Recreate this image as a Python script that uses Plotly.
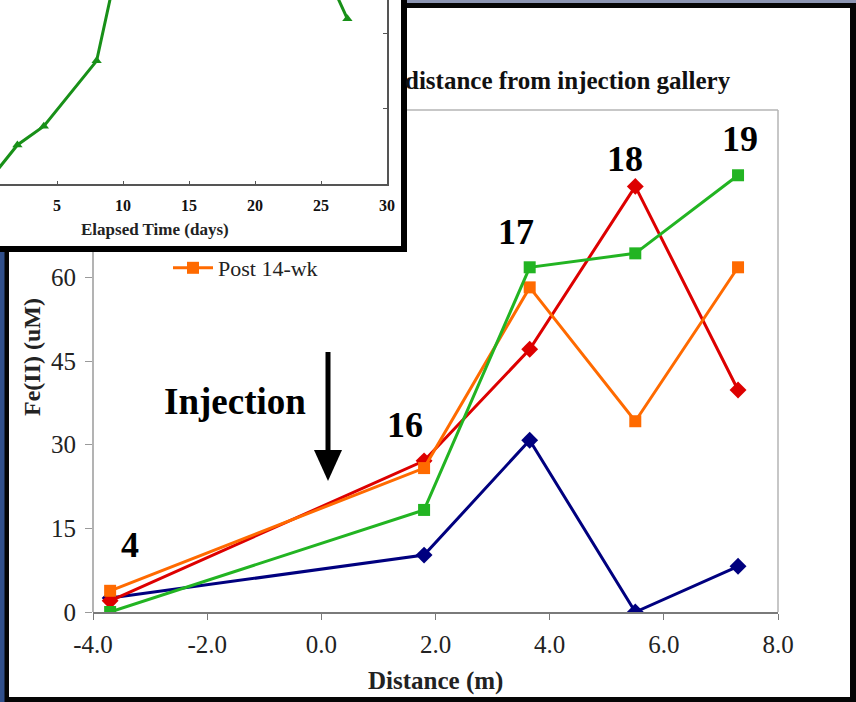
import plotly.graph_objects as go

W, H = 856, 702

# Well positions along the transect (m) and Fe(II) readings per sampling round
distance_m = [-3.7, 1.8, 3.65, 5.5, 7.3]
well_ids = ["4", "16", "17", "18", "19"]
fe_round_a = [2.5, 10.2, 30.8, 0.0, 8.2]      # navy
fe_round_b = [2.0, 27.1, 47.1, 76.3, 39.8]    # red
fe_post_14wk = [3.8, 25.8, 58.2, 34.2, 61.8]  # orange
fe_round_c = [0.0, 18.3, 61.8, 64.3, 78.3]    # green

x_ticks = [-4, -2, 0, 2, 4, 6, 8]
x_tick_text = [f"{v:.1f}" for v in x_ticks]
y_ticks = [0, 15, 30, 45, 60]

# Small time-series panel
elapsed_days = [0, 2, 4, 8, 14.6, 27]
inset_values = [8, 52, 77, 164, 695, 220]
inset_x_ticks = [5, 10, 15, 20, 25, 30]
inset_y_ticks = [0, 100, 200]

SERIF = "Liberation Serif"


def fx(px):
    return px / W


def fy(py):
    return 1 - py / H


# plot-area geometry (pixels)
MX0, MX1, MY0, MY1 = 93, 778, 612, 110
IX1, IY1 = 387, 184

fig = go.Figure()

series = [
    ("Round A", fe_round_a, "#00007f", "diamond", 13, False),
    ("Round B", fe_round_b, "#dd0000", "diamond", 13, False),
    ("Post 14-wk", fe_post_14wk, "#ff6a00", "square", 12, True),
    ("Round C", fe_round_c, "#22b422", "square", 12, False),
]
for name, vals, col, sym, size, show in series:
    fig.add_trace(go.Scatter(
        x=distance_m, y=vals, name=name, mode="lines+markers",
        line=dict(color=col, width=3),
        marker=dict(symbol=sym, size=size, color=col),
        showlegend=show, xaxis="x", yaxis="y",
    ))

fig.add_trace(go.Scatter(
    x=elapsed_days, y=inset_values, mode="lines+markers",
    line=dict(color="#189018", width=3),
    marker=dict(symbol="triangle-up", size=9, color="#189018"),
    showlegend=False, xaxis="x2", yaxis="y2",
))

shapes = [
    # panel backgrounds and borders
    dict(type="rect", xref="paper", yref="paper", x0=fx(0), x1=fx(4.5), y0=fy(702), y1=fy(252),
         fillcolor="#31508c", line_width=0, layer="below"),
    dict(type="rect", xref="paper", yref="paper", x0=fx(407), x1=fx(856), y0=fy(3), y1=fy(0),
         fillcolor="#8c95b2", line_width=0, layer="below"),
    dict(type="rect", xref="paper", yref="paper", x0=fx(9), x1=fx(850), y0=fy(697), y1=fy(8),
         fillcolor="white", line_width=0, layer="below"),
    dict(type="rect", xref="paper", yref="paper", x0=fx(0), x1=fx(407), y0=fy(252), y1=fy(0),
         fillcolor="black", line_width=0, layer="below"),
    dict(type="rect", xref="paper", yref="paper", x0=fx(0), x1=fx(401), y0=fy(246), y1=fy(0),
         fillcolor="white", line_width=0, layer="below"),
    # visible parts of the main plot frame
    dict(type="line", xref="paper", yref="paper", x0=fx(MX0), x1=fx(MX0), y0=fy(MY0), y1=fy(252),
         line=dict(color="#9a9a9a", width=1.5), layer="below"),
    dict(type="line", xref="paper", yref="paper", x0=fx(407), x1=fx(MX1), y0=fy(MY1), y1=fy(MY1),
         line=dict(color="#b4b4b4", width=1.5), layer="below"),
    dict(type="line", xref="paper", yref="paper", x0=fx(MX1), x1=fx(MX1), y0=fy(MY0), y1=fy(MY1),
         line=dict(color="#b4b4b4", width=1.5), layer="below"),
    # injection arrow
    dict(type="line", xref="paper", yref="paper", x0=fx(328), x1=fx(328), y0=fy(352), y1=fy(456),
         line=dict(color="black", width=5)),
    dict(type="path", xref="paper", yref="paper",
         path=f"M {fx(314)} {fy(450)} L {fx(342)} {fy(450)} L {fx(328)} {fy(481)} Z",
         fillcolor="black", line_width=0),
]

label_px = [(130, 545), (405, 425), (516, 232), (625, 159), (740, 139)]
annotations = []
for wid, (lx, ly) in zip(well_ids, label_px):
    annotations.append(dict(text=f"<b>{wid}</b>", x=fx(lx), y=fy(ly), xref="paper", yref="paper",
                            showarrow=False, xanchor="center", yanchor="middle",
                            font=dict(family=SERIF, size=36, color="black")))
annotations += [
    dict(text="<b>Injection</b>", x=fx(235), y=fy(401), xref="paper", yref="paper", showarrow=False,
         xanchor="center", yanchor="middle", font=dict(family=SERIF, size=37, color="black")),
    dict(text="<b>distance from injection gallery</b>", x=fx(733), y=fy(80), xref="paper", yref="paper",
         showarrow=False, xanchor="right", yanchor="middle", font=dict(family=SERIF, size=25, color="#111")),
    dict(text="<b>Fe(II) (uM)</b>", x=fx(32), y=fy(357), xref="paper", yref="paper", showarrow=False,
         textangle=-90, xanchor="center", yanchor="middle", font=dict(family=SERIF, size=24, color="#222")),
    dict(text="<b>Distance (m)</b>", x=fx(435), y=fy(681), xref="paper", yref="paper", showarrow=False,
         xanchor="center", yanchor="middle", font=dict(family=SERIF, size=25, color="#222")),
    dict(text="<b>Elapsed Time (days)</b>", x=fx(155), y=fy(229), xref="paper", yref="paper",
         showarrow=False, xanchor="center", yanchor="middle", font=dict(family=SERIF, size=17, color="#222")),
]

fig.update_layout(
    width=W, height=H,
    font=dict(family=SERIF, color="#222"),
    margin=dict(l=0, r=0, t=0, b=0, pad=0, autoexpand=False),
    paper_bgcolor="#050505",
    plot_bgcolor="rgba(0,0,0,0)",
    shapes=shapes,
    annotations=annotations,
    legend=dict(x=fx(168), y=fy(268), xanchor="left", yanchor="middle", bgcolor="rgba(0,0,0,0)",
                font=dict(family=SERIF, size=22, color="#222"), itemwidth=40),
    xaxis=dict(domain=[fx(MX0), fx(MX1)], range=[-4, 8], tickvals=x_ticks, ticktext=x_tick_text,
               showline=True, linecolor="#7a7a7a", linewidth=1.5, ticks="outside", ticklen=6,
               tickcolor="#7a7a7a", showgrid=False, zeroline=False, anchor="y", automargin=False,
               tickfont=dict(family=SERIF, size=25, color="#222"), ticklabelstandoff=3),
    yaxis=dict(domain=[fy(MY0), fy(MY1)], range=[0, 90], tickvals=y_ticks,
               showline=False, ticks="outside", ticklen=7, tickcolor="#9a9a9a",
               showgrid=False, zeroline=False, anchor="x", automargin=False,
               tickfont=dict(family=SERIF, size=25, color="#222"), ticklabelstandoff=4),
    xaxis2=dict(domain=[0, fx(IX1)], range=[0.68, 30], tickvals=inset_x_ticks, anchor="y2",
                showline=True, linecolor="#555", linewidth=1.5, ticks="inside", ticklen=3,
                tickcolor="#555", showgrid=False, zeroline=False, automargin=False,
                tickfont=dict(family=SERIF, size=16, color="#111", weight="bold"),
                ticklabelstandoff=6),
    yaxis2=dict(domain=[fy(IY1), 1], range=[0, 245], tickvals=inset_y_ticks, anchor="x2", side="right",
                showline=True, linecolor="#555", linewidth=1.5, ticks="inside", ticklen=4,
                tickcolor="#555", showticklabels=False, showgrid=False, zeroline=False,
                automargin=False),
)

fig.write_html("out.html")
